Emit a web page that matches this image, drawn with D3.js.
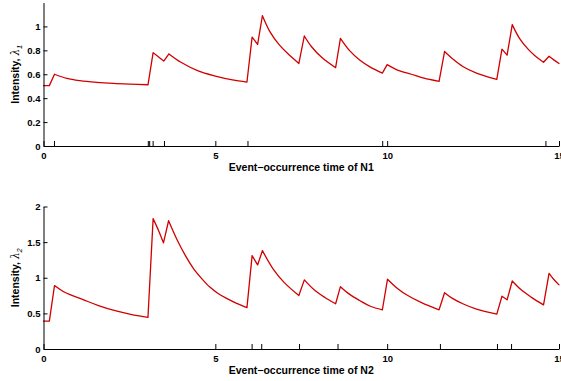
<!DOCTYPE html>
<html>
<head>
<meta charset="utf-8">
<script src="https://cdn.jsdelivr.net/npm/d3@7"></script>
<style>
  body { margin: 0; background: #fff; }
  text { font-family: "Liberation Sans", Arial, Helvetica, sans-serif; font-weight: bold; fill: #000; }
</style>
</head>
<body>
<script>
// event times
var eventsN1 = [0.32, 3.05, 3.09, 3.19, 3.52, 5.95, 9.87, 14.62];
var eventsN2 = [6.07, 6.35, 7.45, 8.57, 11.55, 13.21, 13.62];

var timeTicks = [0, 5, 10, 15];
var lambda1Ticks = [0, 0.2, 0.4, 0.6, 0.8, 1];
var lambda2Ticks = [0, 0.5, 1, 1.5, 2];

var lambda1T = [0, 0.17, 0.32, 0.68, 1.06, 1.55, 2.03, 2.51, 3.04,
    3.19, 3.35, 3.50, 3.65, 4.0, 4.5, 5.0, 5.5, 5.92,
    6.07, 6.23, 6.37, 6.6, 6.85, 7.1, 7.43,
    7.59, 7.8, 8.1, 8.50,
    8.64, 8.9, 9.2, 9.51, 9.86,
    10.0, 10.3, 10.7, 11.1, 11.51,
    11.67, 11.9, 12.2, 12.6, 13.19,
    13.34, 13.49, 13.64, 13.85, 14.1, 14.3, 14.55,
    14.71, 14.85, 15.0];
var lambda1V = [0.505, 0.505, 0.60, 0.565, 0.546, 0.532, 0.523, 0.517, 0.512,
    0.78, 0.745, 0.71, 0.77, 0.70, 0.628, 0.585, 0.553, 0.535,
    0.91, 0.85, 1.09, 0.95, 0.85, 0.775, 0.69,
    0.92, 0.83, 0.74, 0.655,
    0.90, 0.80, 0.72, 0.66, 0.61,
    0.68, 0.635, 0.60, 0.565, 0.54,
    0.79, 0.73, 0.665, 0.61, 0.557,
    0.81, 0.76, 1.015, 0.90, 0.81, 0.755, 0.70,
    0.75, 0.72, 0.69];

// intensity of N2
var lambda2T = [0, 0.17, 0.32, 0.6, 1.17, 1.6, 2.14, 2.6, 3.04,
    3.19, 3.35, 3.49, 3.64, 3.89, 4.13, 4.37, 4.61, 4.84, 5.08, 5.33, 5.62, 5.92,
    6.07, 6.23, 6.37, 6.7, 7.0, 7.43,
    7.59, 7.9, 8.2, 8.50,
    8.64, 8.9, 9.2, 9.51, 9.86,
    10.01, 10.3, 10.6, 11.0, 11.51,
    11.67, 11.9, 12.2, 12.6, 13.19,
    13.34, 13.49, 13.64, 13.9, 14.2, 14.55,
    14.71, 14.85, 15.0];
var lambda2V = [0.39, 0.39, 0.89, 0.80, 0.69, 0.61, 0.53, 0.48, 0.445,
    1.83, 1.66, 1.49, 1.80, 1.53, 1.31, 1.125, 0.985, 0.87, 0.78, 0.71, 0.64, 0.58,
    1.31, 1.18, 1.38, 1.11, 0.935, 0.75,
    0.97, 0.82, 0.72, 0.635,
    0.875, 0.77, 0.68, 0.60, 0.55,
    0.98, 0.85, 0.75, 0.65, 0.55,
    0.79, 0.71, 0.635, 0.56, 0.49,
    0.74, 0.69, 0.955, 0.83, 0.725, 0.62,
    1.06, 0.975, 0.90];

var W = 561, H = 381;
var left = 43.5, right = 559;

var svg = d3.select("body").append("svg")
    .attr("width", W)
    .attr("height", H);

function drawPanel(p) {
    var x = d3.scaleLinear().domain([0, 15]).range([left, right]);
    var y = d3.scaleLinear().domain([0, p.yMax]).range([p.bottom, p.top]);
    var g = svg.append("g");

    // split the series: decays are smooth, jumps are straight
    var pts = p.ts.map(function(t, i) { return [t, p.vs[i]]; });
    var runs = [], cur = [pts[0]];
    for (var i = 1; i < pts.length; i++) {
        if (pts[i][1] <= pts[i - 1][1]) {
            cur.push(pts[i]);
        } else {
            runs.push(cur);
            runs.push([pts[i - 1], pts[i]]);
            cur = [pts[i]];
        }
    }
    runs.push(cur);

    var line = d3.line()
        .x(function(d) { return x(d[0]); })
        .y(function(d) { return y(d[1]); })
        .curve(d3.curveCatmullRom.alpha(0.5));

    g.append("path")
        .attr("d", runs.map(function(r) { return line(r); }).join(""))
        .attr("fill", "none")
        .attr("stroke", "#d00000")
        .attr("stroke-width", 1.3)
        .attr("stroke-linecap", "round")
        .attr("stroke-linejoin", "round");

    // axes
    var ya = g.append("g")
        .attr("transform", "translate(" + left + ",0)")
        .call(d3.axisLeft(y).tickValues(p.yTicks).tickSizeInner(-4).tickSizeOuter(0).tickPadding(3)
            .tickFormat(function(d) { return String(d); }));
    var xa = g.append("g")
        .attr("transform", "translate(0," + p.bottom + ")")
        .call(d3.axisBottom(x).tickValues(timeTicks).tickSizeInner(-5).tickSizeOuter(0).tickPadding(6)
            .tickFormat(d3.format("d")));
    [ya, xa].forEach(function(a) {
        a.selectAll("text").attr("font-size", 9.5).attr("font-family", null).attr("fill", "#000");
        a.selectAll("line").attr("stroke", "#000");
        a.select(".domain").attr("stroke", "#000").attr("stroke-width", 1);
    });

    // event marks on the time axis
    g.selectAll(".ev").data(p.events).enter().append("line")
        .attr("x1", function(d) { return x(d); })
        .attr("x2", function(d) { return x(d); })
        .attr("y1", p.bottom)
        .attr("y2", p.bottom - 5)
        .attr("stroke", "#000")
        .attr("stroke-width", 1);

    g.append("text")
        .attr("x", (left + right) / 2)
        .attr("y", p.bottom + 25)
        .attr("text-anchor", "middle")
        .attr("font-size", 10.5)
        .text("Event\u2212occurrence time of " + p.name);

    var lab = g.append("text")
        .attr("transform", "translate(19," + ((p.top + p.bottom) / 2) + ") rotate(-90)")
        .attr("text-anchor", "middle")
        .attr("font-size", 10.5);
    lab.append("tspan").text("Intensity, ");
    lab.append("tspan")
        .attr("font-family", "'DejaVu Serif', 'Liberation Serif', serif")
        .attr("font-weight", "normal")
        .attr("font-style", "italic")
        .text("\u03bb");
    lab.append("tspan")
        .attr("dy", 3)
        .attr("font-size", 7.5)
        .attr("font-style", "italic")
        .attr("font-weight", "normal")
        .text(p.sub);
}

drawPanel({ top: 2.5, bottom: 146, yMax: 1.2, yTicks: lambda1Ticks,
    ts: lambda1T, vs: lambda1V, events: eventsN1, name: "N1", sub: "1" });
drawPanel({ top: 206.5, bottom: 349, yMax: 2, yTicks: lambda2Ticks,
    ts: lambda2T, vs: lambda2V, events: eventsN2, name: "N2", sub: "2" });
</script>
</body>
</html>
